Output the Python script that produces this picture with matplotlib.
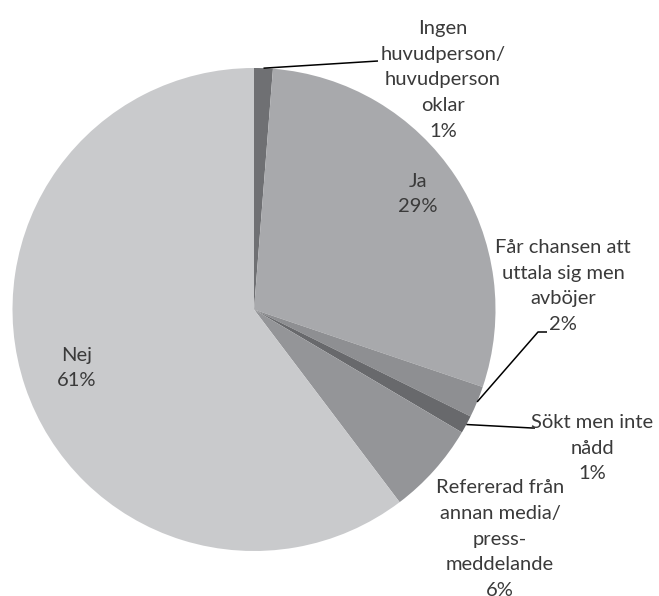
import numpy as np
import matplotlib
matplotlib.use("Agg")
from matplotlib import pyplot as plt

plt.rcParams['font.family'] = ['Lato', 'DejaVu Sans']

# slices, clockwise from 12 o'clock
labels = ['Ingen\nhuvudperson/\nhuvudperson\noklar\n1%',
          'Ja\n29%',
          'Får chansen att\nuttala sig men\navböjer\n2%',
          'Sökt men inte\nnådd\n1%',
          'Refererad från\nannan media/\npress-\nmeddelande\n6%',
          'Nej\n61%']
shares = [1.25, 28.95, 2.1, 1.2, 6.2, 60.3]
colors = ['#6f7073', '#a8a9ac', '#8e8f92', '#68696c', '#949598', '#c9cacc']

W, H = 659, 596
cx, cy, R = 254, H - 309.5, 241.5
txt_col = '#3a3a3a'
fs = 14.5

fig = plt.figure(figsize=(W/100, H/100), dpi=100)
ax = fig.add_axes([0, 0, 1, 1])
wedges, _ = ax.pie(shares, colors=colors, startangle=90, counterclock=False,
                   center=(cx, cy), radius=R, wedgeprops=dict(linewidth=0))
ax.set_xlim(0, W)
ax.set_ylim(0, H)
ax.set_aspect('auto')
ax.axis('off')

def edge_point(w):
    a = np.deg2rad((w.theta1 + w.theta2) / 2)
    return cx + R*np.cos(a), cy + R*np.sin(a)

# label positions (pixel coords from top)
pos = [(443, 80), (418, 194), (563, 286), (592, 448), (500, 539), (77, 368)]
for lab, (x, y) in zip(labels, pos):
    ax.text(x, H - y, lab, ha='center', va='center', fontsize=fs,
            color=txt_col, linespacing=1.62)

# leader lines
def leader(i, pts):
    x0, y0 = edge_point(wedges[i])
    xs = [x0] + [p[0] for p in pts]
    ys = [y0] + [H - p[1] for p in pts]
    ax.plot(xs, ys, color='black', lw=1.1, solid_capstyle='butt')

leader(0, [(378, 61)])
leader(2, [(538, 332), (547, 332)])
leader(3, [(532, 428), (535, 428)])

fig.savefig('out.png', dpi=100)
